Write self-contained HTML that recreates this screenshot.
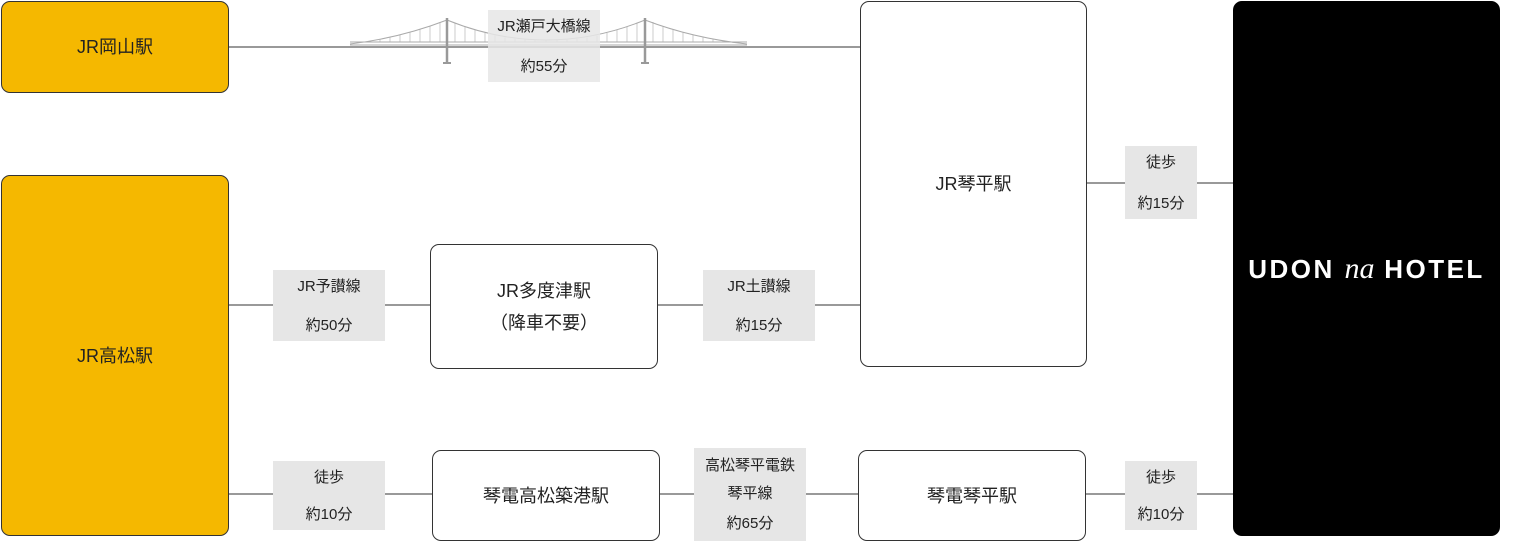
<!DOCTYPE html>
<html><head><meta charset="utf-8"><style>
body{margin:0;width:1517px;height:544px;background:#fff;position:relative;overflow:hidden;font-family:"Liberation Sans","Noto Sans CJK JP",sans-serif;color:#222}
.b{position:absolute;box-sizing:border-box;border:1.5px solid #333;border-radius:9px;display:flex;align-items:center;justify-content:center;text-align:center;font-size:18px;line-height:32px}
.y{background:#f5b800}
.l{position:absolute;background:#e6e6e6;font-size:15px;text-align:center;display:flex;flex-direction:column;justify-content:space-between;padding:7px 0 5px;box-sizing:border-box;line-height:20px}
.h{position:absolute;height:1.5px;background:#999}
</style></head><body>
<div class="h" style="left:229px;width:631px;top:46px"></div>
<div class="h" style="left:229px;width:201px;top:304px"></div>
<div class="h" style="left:658px;width:202px;top:304px"></div>
<div class="h" style="left:229px;width:203px;top:493px"></div>
<div class="h" style="left:660px;width:198px;top:493px"></div>
<div class="h" style="left:1086px;width:147px;top:493px"></div>
<div class="h" style="left:1087px;width:146px;top:182px"></div>
<svg style="position:absolute;left:0;top:0" width="1517" height="100">
<g stroke="#aaa" stroke-width="1" fill="none">
<path d="M350 44 Q400 38 447 20 Q546 60 645 20 Q692 38 747 44"/>
<path d="M350 42 L747 42 M350 45 L747 45"/>
<g stroke-width="0.6">
<path d="M360 42V43M370 42V41M380 42V39.5M390 42V37.5M400 42V35M410 42V32M420 42V29M430 42V26M440 42V22M455 42V23M465 42V27M475 42V30M485 42V33M495 42V35.5M505 42V37.5M515 42V38.8M525 42V39.6M535 42V40M546 42V40M557 42V40M567 42V39.6M577 42V38.8M587 42V37.5M597 42V35.5M607 42V33M617 42V30M627 42V27M637 42V23M653 42V22M663 42V26M673 42V29M683 42V32M693 42V35M703 42V37.5M713 42V39.5M723 42V41M733 42V43"/>
</g></g>
<g stroke="#999" stroke-width="2.5"><path d="M447 18V63M645 18V63"/></g>
<g stroke="#999" stroke-width="2"><path d="M443 63H451M641 63H649"/></g>
</svg>
<div class="l" style="left:488px;top:10px;width:112px;height:72px;background:rgba(230,230,230,0.85)"><span>JR瀬戸大橋線</span><span>約55分</span></div>
<div class="l" style="left:1125px;top:146px;width:72px;height:73px"><span>徒歩</span><span>約15分</span></div>
<div class="l" style="left:273px;top:270px;width:112px;height:71px"><span>JR予讃線</span><span>約50分</span></div>
<div class="l" style="left:703px;top:270px;width:112px;height:71px"><span>JR土讃線</span><span>約15分</span></div>
<div class="l" style="left:273px;top:461px;width:112px;height:69px"><span>徒歩</span><span>約10分</span></div>
<div class="l" style="left:1125px;top:461px;width:72px;height:69px"><span>徒歩</span><span>約10分</span></div>
<div class="l" style="left:694px;top:448px;width:112px;height:93px;padding:4px 0 3px;line-height:28px"><span>高松琴平電鉄<br>琴平線</span><span>約65分</span></div>
<div class="b y" style="left:1px;top:1px;width:228px;height:92px">JR岡山駅</div>
<div class="b y" style="left:1px;top:175px;width:228px;height:361px">JR高松駅</div>
<div class="b" style="left:430px;top:244px;width:228px;height:125px">JR多度津駅<br>（降車不要）</div>
<div class="b" style="left:860px;top:1px;width:227px;height:366px">JR琴平駅</div>
<div class="b" style="left:432px;top:450px;width:228px;height:91px">琴電高松築港駅</div>
<div class="b" style="left:858px;top:450px;width:228px;height:91px">琴電琴平駅</div>
<div class="b" style="left:1233px;top:1px;width:267px;height:535px;background:#000;border-color:#000;color:#fff;font-weight:bold;font-size:26px;letter-spacing:2.5px">UDON&nbsp;<i style="font-family:'Liberation Serif',serif;font-weight:normal;font-size:30px;letter-spacing:0">na</i>&nbsp;HOTEL</div>
</body></html>
